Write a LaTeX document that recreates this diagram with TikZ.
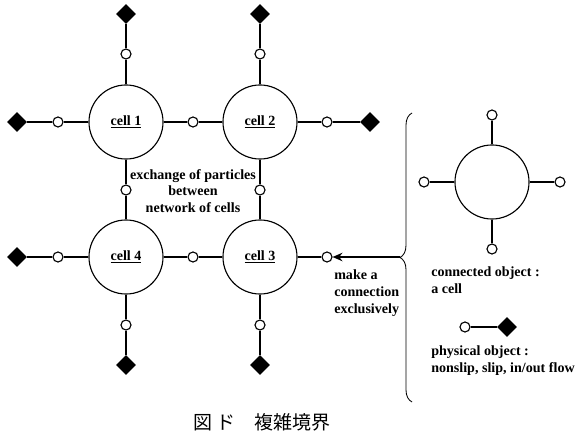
\documentclass[tikz,border=0pt]{standalone}
\usepackage{fontspec}
\setmainfont{Liberation Serif}
\newfontfamily\cjkfont{Noto Sans CJK JP}
\usepackage{tikz}
\usetikzlibrary{shapes, arrows.meta, positioning, decorations.pathreplacing}

\begin{document}
\begin{tikzpicture}[
  x=0.025cm, y=-0.025cm,
  cell/.style={circle, draw, line width=0.8pt, minimum size=1.85cm, inner sep=0pt, font=\bfseries},
  port/.style={circle, draw, fill=white, line width=0.8pt, minimum size=0.25cm, inner sep=0pt},
  phys/.style={diamond, fill=black, minimum size=0.5cm, inner sep=0pt},
  link/.style={line width=0.8pt},
  wall/.style={line width=1.3pt},
  lbl/.style={font=\bfseries, inner sep=0pt}
]
  \useasboundingbox (0,0) rectangle (580,432);

  % cells
  \node[cell] (c1) at (126,122) {\underline{cell 1}};
  \node[cell] (c2) at (260,122) {\underline{cell 2}};
  \node[cell] (c3) at (260,257) {\underline{cell 3}};
  \node[cell] (c4) at (126,257) {\underline{cell 4}};

  % connection points
  \node[port] (p12) at (193,122) {};
  \node[port] (p14) at (126,190) {};
  \node[port] (p23) at (260,190) {};
  \node[port] (p43) at (193,257) {};
  \node[port] (p1t) at (126,54) {};
  \node[port] (p1l) at (58,122) {};
  \node[port] (p2t) at (260,54) {};
  \node[port] (p2r) at (327,122) {};
  \node[port] (p4l) at (58,257) {};
  \node[port] (p4b) at (126,325) {};
  \node[port] (p3b) at (260,325) {};
  \node[port] (p3r) at (327,257) {};

  % physical objects
  \node[phys] (d1t) at (126,14) {};
  \node[phys] (d1l) at (17,122) {};
  \node[phys] (d2t) at (260,14) {};
  \node[phys] (d2r) at (370,122) {};
  \node[phys] (d4l) at (17,257) {};
  \node[phys] (d4b) at (126,365) {};
  \node[phys] (d3b) at (260,365) {};

  \draw[link] (c1) -- (p12) -- (c2);
  \draw[link] (c1) -- (p14) -- (c4);
  \draw[link] (c2) -- (p23) -- (c3);
  \draw[link] (c4) -- (p43) -- (c3);
  \draw[link] (c1) -- (p1t);
  \draw[link] (c1) -- (p1l);
  \draw[link] (c2) -- (p2t);
  \draw[link] (c2) -- (p2r);
  \draw[link] (c4) -- (p4l);
  \draw[link] (c4) -- (p4b);
  \draw[link] (c3) -- (p3b);
  \draw[link] (c3) -- (p3r);
  \draw[wall] (p1t) -- (d1t);
  \draw[wall] (p1l) -- (d1l);
  \draw[wall] (p2t) -- (d2t);
  \draw[wall] (p2r) -- (d2r);
  \draw[wall] (p4l) -- (d4l);
  \draw[wall] (p4b) -- (d4b);
  \draw[wall] (p3b) -- (d3b);

  \node[lbl, align=center] (xchg) at (193,191) {exchange of particles\\between\\network of cells};
  \node[lbl, align=left, anchor=west] (mkcon) at (334,293) {make a\\connection\\exclusively};

  % legend
  \draw[decorate, decoration={brace, amplitude=0.3cm}, line width=0.6pt] (412,402) -- (412,113);
  \coordinate (tip) at (400,257);
  \draw[line width=1.3pt, -{Stealth[length=7pt, width=6pt]}] (tip) -- (p3r);

  \node[cell] (lc) at (492,182) {};
  \node[port] (lct) at (492,115) {};
  \node[port] (lcb) at (492,249) {};
  \node[port] (lcl) at (424,182) {};
  \node[port] (lcr) at (560,182) {};
  \draw[link] (lc) -- (lct);
  \draw[link] (lc) -- (lcb);
  \draw[link] (lc) -- (lcl);
  \draw[link] (lc) -- (lcr);
  \node[lbl, align=left, anchor=west] (conobj) at (431,280) {connected object :\\a cell};

  \node[port] (lp) at (465,327) {};
  \node[phys] (ld) at (507,327) {};
  \draw[wall] (lp) -- (ld);
  \node[lbl, align=left, anchor=west] (physobj) at (431,361) {physical object :\\nonslip, slip, in/out flow};

  \node[anchor=west, inner sep=0pt, font=\cjkfont\fontsize{13.5}{14}\selectfont] (cap) at (193,422) {図 ド　複雑境界};
\end{tikzpicture}
\end{document}
